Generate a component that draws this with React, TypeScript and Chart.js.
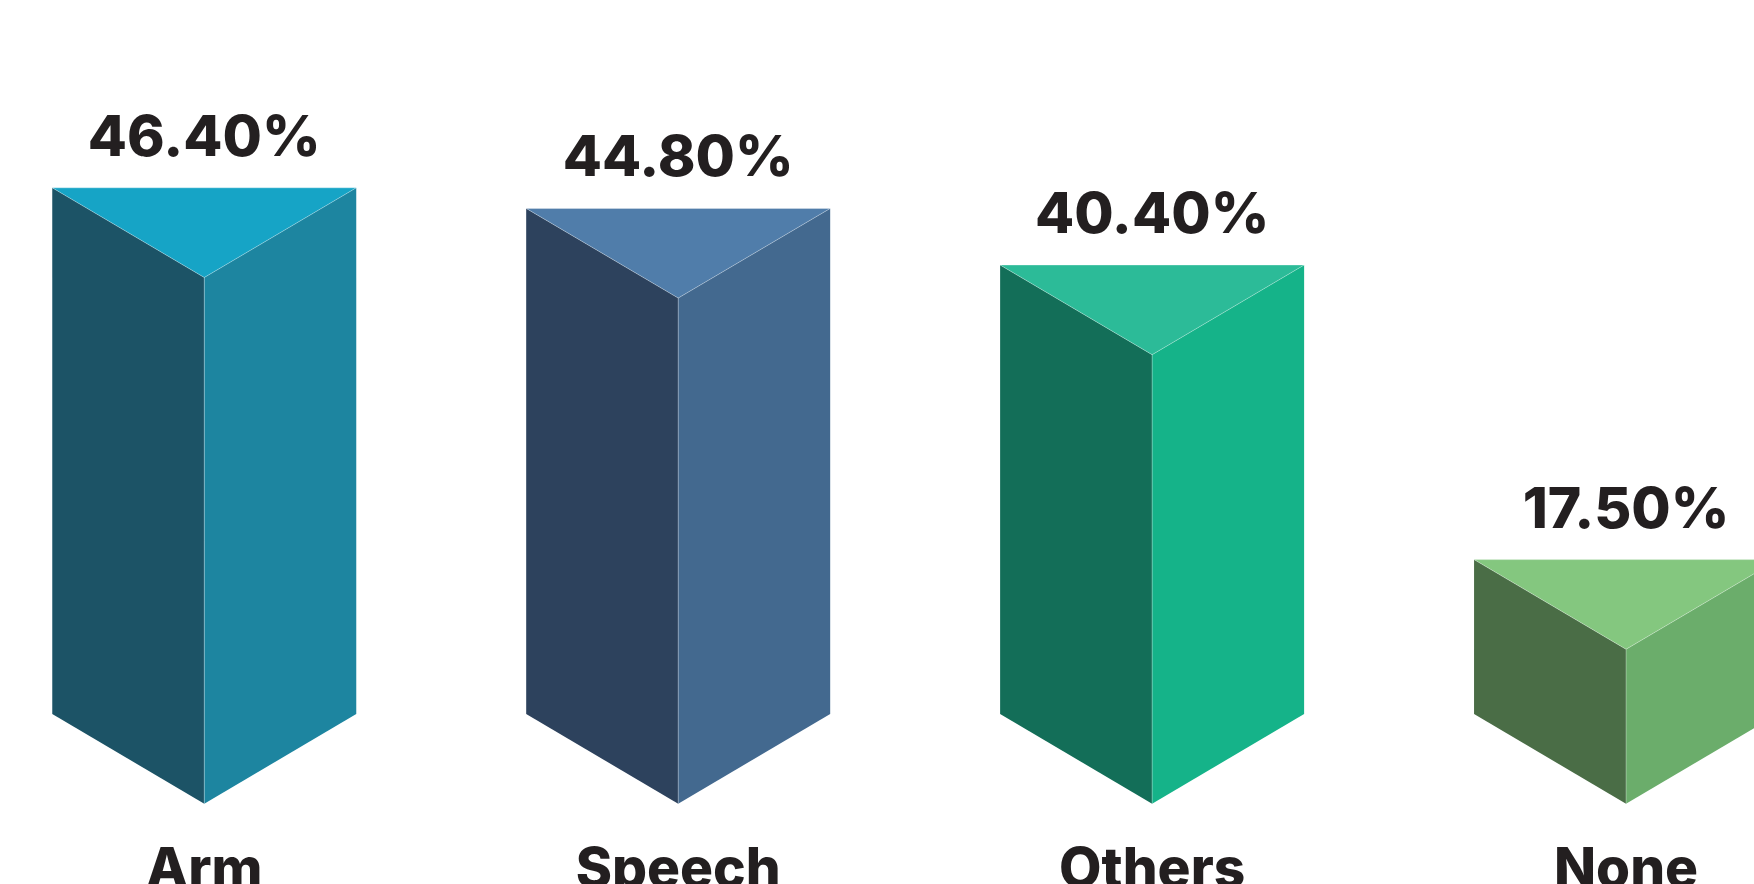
import React, { useEffect, useRef } from "react";
import { Chart, registerables } from "chart.js";

Chart.register(...registerables);

const categories = ["Arm", "Speech", "Others", "None"];
const values = [46.4, 44.8, 40.4, 17.5];
const topColors = ["#16a4c6", "#507daa", "#2cbb98", "#84c77f"];
const leftColors = ["#1c5366", "#2d425d", "#136e58", "#4a6d46"];
const rightColors = ["#1d85a0", "#43698f", "#15b389", "#6bad6b"];

const Y_MIN = 5.5;
const Y_MAX = 61;

const TEXT_COLOR = "#231f20";
const FONT_FAMILY = "Inter, 'Noto Sans', sans-serif";

const prismPlugin = {
  id: "prism",
  afterDatasetsDraw(chart: any) {
    const ctx = chart.ctx as CanvasRenderingContext2D;
    const meta = chart.getDatasetMeta(0);
    const xScale = chart.scales.x;
    ctx.save();
    meta.data.forEach((el: any, i: number) => {
      const { x, y, base, width } = el.getProps(["x", "y", "base", "width"], true);
      const half = width / 2;
      const left = x - half;
      const right = x + half;
      const depth = width * 0.295;

      // left face
      ctx.beginPath();
      ctx.moveTo(left, y);
      ctx.lineTo(x, y + depth);
      ctx.lineTo(x, base + depth);
      ctx.lineTo(left, base);
      ctx.closePath();
      ctx.fillStyle = leftColors[i];
      ctx.fill();

      // right face
      ctx.beginPath();
      ctx.moveTo(right, y);
      ctx.lineTo(x, y + depth);
      ctx.lineTo(x, base + depth);
      ctx.lineTo(right, base);
      ctx.closePath();
      ctx.fillStyle = rightColors[i];
      ctx.fill();

      // top face
      ctx.beginPath();
      ctx.moveTo(left, y);
      ctx.lineTo(right, y);
      ctx.lineTo(x, y + depth);
      ctx.closePath();
      ctx.fillStyle = topColors[i];
      ctx.fill();

      // subtle light edges
      ctx.strokeStyle = "rgba(255,255,255,0.3)";
      ctx.lineWidth = 1;
      ctx.beginPath();
      ctx.moveTo(left, y);
      ctx.lineTo(right, y);
      ctx.moveTo(left, y);
      ctx.lineTo(x, y + depth);
      ctx.lineTo(right, y);
      ctx.moveTo(x, y + depth);
      ctx.lineTo(x, base + depth);
      ctx.stroke();

      // value label
      ctx.fillStyle = TEXT_COLOR;
      ctx.font = `800 57px ${FONT_FAMILY}`;
      ctx.textAlign = "center";
      ctx.textBaseline = "alphabetic";
      ctx.fillText(values[i].toFixed(2) + "%", x, y - 32);

      // category label
      ctx.font = `800 55px ${FONT_FAMILY}`;
      ctx.fillText(categories[i], xScale.getPixelForValue(i), 887);
    });
    ctx.restore();
  },
};

export default function App() {
  const canvasRef = useRef<HTMLCanvasElement | null>(null);

  useEffect(() => {
    document.body.style.margin = "0";
    document.body.style.overflow = "hidden";
    const canvas = canvasRef.current;
    if (!canvas) return;
    const chart = new Chart(canvas, {
      type: "bar",
      data: {
        datasets: [
          {
            label: "Share",
            data: values.map((v, i) => ({ x: i, y: v })),
            backgroundColor: "rgba(0,0,0,0)",
            borderWidth: 0,
            barThickness: 304,
            base: Y_MIN,
          },
        ],
      },
      options: {
        animation: false,
        responsive: false,
        devicePixelRatio: 1,
        events: [],
        layout: { padding: { top: 0, left: 0, right: 0, bottom: 170 } },
        plugins: {
          legend: { display: false },
          tooltip: { enabled: false },
          title: { display: false },
        },
        scales: {
          x: {
            type: "linear",
            offset: false,
            min: -0.431,
            max: 3.27,
            display: false,
          },
          y: {
            type: "linear",
            min: Y_MIN,
            max: Y_MAX,
            display: false,
          },
        },
      },
      plugins: [prismPlugin],
    });
    return () => chart.destroy();
  }, []);

  return (
    <div style={{ width: 1754, height: 884, background: "#ffffff" }}>
      <canvas ref={canvasRef} width={1754} height={884} style={{ display: "block" }} />
    </div>
  );
}
